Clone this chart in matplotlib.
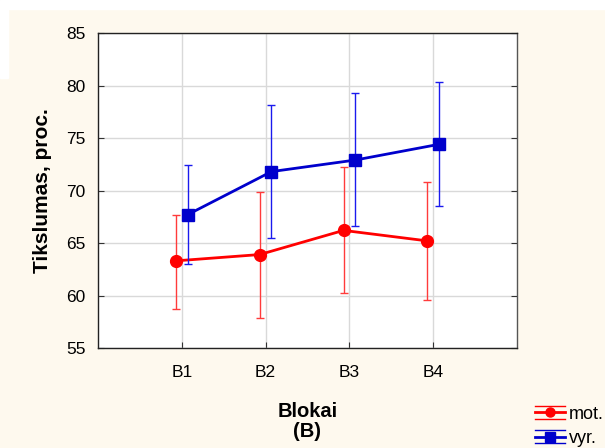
import numpy as np
import matplotlib.pyplot as plt
from matplotlib.patches import Rectangle
from matplotlib.lines import Line2D
from matplotlib.legend_handler import HandlerBase

plt.rcParams['font.family'] = ['Liberation Sans', 'DejaVu Sans']

# data
blocks = ['B1', 'B2', 'B3', 'B4']
mot_mean = [63.3, 63.9, 66.2, 65.2]
mot_low = [58.7, 57.9, 60.2, 59.6]
mot_high = [67.7, 69.9, 72.2, 70.8]
vyr_mean = [67.7, 71.8, 72.9, 74.4]
vyr_low = [63.0, 65.5, 66.6, 68.5]
vyr_high = [72.4, 78.1, 79.3, 80.3]


class BandHandler(HandlerBase):
    # line + marker with thin whisker lines above and below, like the original legend
    def create_artists(self, legend, orig, xd, yd, w, h, fontsize, trans):
        c, mk = orig.get_color(), orig.get_marker()
        yc = h / 2 - yd
        arts = []
        for dy, lw in ((-4.7, 1), (4.7, 1), (0, 2)):
            ln = Line2D([-xd, w - xd], [yc + dy, yc + dy], color=c, lw=lw)
            ln.set_transform(trans)
            arts.append(ln)
        mkr = Line2D([w / 2 - xd], [yc], color=c, marker=mk, ms=6.5, ls='none')
        mkr.set_transform(trans)
        arts.append(mkr)
        return arts


bg = '#fef9ee'
fig = plt.figure(figsize=(6.05, 4.48), dpi=100, facecolor=bg)
fig.patches.append(Rectangle((0, 1 - 9 / 448), 1, 9 / 448, transform=fig.transFigure,
                             color='white', zorder=-10))
fig.patches.append(Rectangle((0, 1 - 78 / 448), 8 / 605, 78 / 448, transform=fig.transFigure,
                             color='white', zorder=-10))

ax = fig.add_axes([98 / 605, 1 - 348 / 448, (517 - 98) / 605, (348 - 33) / 448])
ax.set_facecolor('white')

x = np.arange(1, len(blocks) + 1)
off = 0.07

m = np.array(mot_mean)
ax.errorbar(x - off, m, yerr=[m - np.array(mot_low), np.array(mot_high) - m],
            color='#ff0000', ecolor='#ff3b3b', elinewidth=1, capsize=3, capthick=1,
            lw=2, marker='o', ms=8.5, zorder=3)
v = np.array(vyr_mean)
ax.errorbar(x + off, v, yerr=[v - np.array(vyr_low), np.array(vyr_high) - v],
            color='#0000cc', ecolor='#1a1aee', elinewidth=1, capsize=3, capthick=1,
            lw=2, marker='s', ms=8, zorder=4)

ax.set_xlim(0, 5)
ax.set_ylim(55, 85)
ax.set_xticks(x)
ax.set_xticklabels(blocks)
ax.set_yticks(np.arange(55, 86, 5))
ax.grid(True, color='#d9d9d9', lw=1)
ax.set_axisbelow(True)
ax.tick_params(axis='y', labelsize=12.5, length=4, color='#333333', right=True,
               direction='in', pad=9)
ax.tick_params(axis='x', labelsize=12.5, length=4, color='#333333', direction='in', pad=12)
for s in ax.spines.values():
    s.set_color('#222222')
    s.set_linewidth(1)
ax.spines['right'].set_color('#555555')

ax.set_ylabel('Tikslumas, proc.', fontsize=15, fontweight='bold', labelpad=10)
ax.set_xlabel('Blokai\n(B)', fontsize=14.5, fontweight='bold', labelpad=16, linespacing=1.05)

h1 = Line2D([], [], color='#ff0000', marker='o')
h2 = Line2D([], [], color='#0000cc', marker='s')
fig.legend(handles=[h1, h2], labels=['mot.', 'vyr.'], loc='lower right',
           bbox_to_anchor=(1.016, -0.022), frameon=False, fontsize=13,
           handlelength=1.7, handletextpad=0.2, labelspacing=0.4, borderaxespad=0.2,
           handler_map={Line2D: BandHandler()})

fig.savefig('out.png', dpi=100, facecolor=bg)
